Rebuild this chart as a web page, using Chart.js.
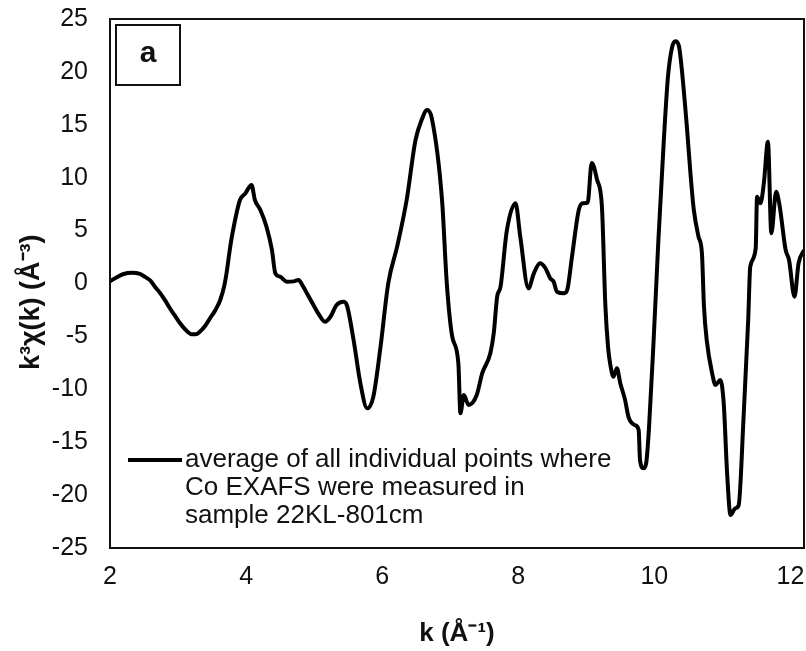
<!DOCTYPE html>
<html>
<head>
<meta charset="utf-8">
<script src="https://cdn.jsdelivr.net/npm/chart.js@4.4.1/dist/chart.umd.min.js"></script>
<style>
  html, body { margin: 0; padding: 0; background: #fff; }
  #wrap { width: 806px; height: 651px; }
</style>
</head>
<body>
<div id="wrap"><canvas id="c" width="806" height="651"></canvas></div>
<script>
// ---- data ----
const kValues = [
  2.00, 2.10, 2.20, 2.32, 2.44, 2.52, 2.59, 2.66, 2.74, 2.81, 2.88, 2.95, 3.03, 3.10, 3.20, 3.26,
  3.32, 3.40, 3.47, 3.55, 3.62, 3.68, 3.72, 3.76, 3.80, 3.91, 3.99, 4.08, 4.13, 4.21, 4.30, 4.38,
  4.43, 4.50, 4.60, 4.70, 4.77, 4.84, 4.90, 4.99, 5.06, 5.16, 5.24, 5.33, 5.43, 5.48, 5.58, 5.68,
  5.78, 5.87, 5.97, 6.09, 6.22, 6.36, 6.49, 6.58, 6.66, 6.73, 6.88, 6.95, 7.03, 7.12, 7.15, 7.20,
  7.27, 7.39, 7.47, 7.59, 7.64, 7.69, 7.74, 7.83, 7.96, 8.03, 8.15, 8.23, 8.32, 8.40, 8.47, 8.52,
  8.57, 8.67, 8.72, 8.79, 8.89, 8.95, 9.02, 9.08, 9.16, 9.23, 9.28, 9.32, 9.35, 9.40, 9.45, 9.50,
  9.57, 9.62, 9.72, 9.77, 9.79, 9.84, 9.88, 9.92, 9.99, 10.06, 10.14, 10.20, 10.26, 10.31, 10.36, 10.40,
  10.48, 10.53, 10.58, 10.65, 10.70, 10.73, 10.77, 10.85, 10.90, 10.97, 11.02, 11.07, 11.12, 11.19, 11.24, 11.31,
  11.38, 11.41, 11.49, 11.51, 11.56, 11.61, 11.67, 11.72, 11.79, 11.84, 11.93, 11.98, 12.06, 12.12, 12.20
];
const chiValues = [
  0.2, 0.6, 0.9, 1.02, 0.9, 0.6, 0.3, -0.3, -0.93, -1.6, -2.34, -3.0, -3.76, -4.3, -4.8, -4.8,
  -4.56, -4.0, -3.29, -2.5, -1.56, -0.2, 1.28, 3.17, 4.74, 7.89, 8.52, 9.31, 7.89, 6.95, 5.37, 3.17,
  0.96, 0.64, 0.17, 0.2, 0.33, -0.3, -1.0, -2.03, -2.82, -3.61, -3.14, -2.03, -1.72, -2.03, -5.34, -9.43,
  -11.8, -10.7, -6.29, 0.02, 3.48, 7.89, 13.56, 15.45, 16.4, 15.61, 7.89, 0.02, -5.03, -7.54, -12.27, -10.54,
  -11.48, -10.54, -8.49, -6.6, -4.71, -1.25, -0.3, 4.9, 7.58, 4.42, -0.45, 0.96, 1.91, 1.44, 0.49, 0.17,
  -0.78, -0.93, -0.61, 2.53, 6.95, 7.58, 7.64, 11.4, 9.78, 7.26, -2.0, -6.0, -7.54, -8.81, -8.02, -9.43,
  -11.0, -12.6, -13.4, -13.85, -16.7, -17.47, -17.0, -13.85, -5.34, 4.11, 13.56, 19.5, 22.3, 22.9, 22.5, 20.5,
  14.7, 10.5, 7.0, 4.42, 2.85, -2.19, -5.34, -8.49, -9.59, -9.12, -11.32, -17.94, -21.88, -21.25, -20.94, -12.9,
  -3.45, 1.59, 3.33, 8.2, 7.58, 9.47, 13.4, 4.74, 8.68, 7.42, 3.17, 2.22, -1.25, 1.91, 3.17
];
const xTickValues = [2, 4, 6, 8, 10, 12];
const yTickValues = [-25, -20, -15, -10, -5, 0, 5, 10, 15, 20, 25];
const legendLines = [
  "average of all individual points where",
  "Co EXAFS were measured in",
  "sample 22KL-801cm"
];
const panelLabel = "a";
const xTitle = "k (Å\u207B\u00B9)";
const yTitle = "k\u00B3χ(k) (Å\u207B\u00B3)";

const points = kValues.map((k, i) => ({ x: k, y: chiValues[i] }));
const FONT = "'Liberation Sans', Arial, sans-serif";

const framePlugin = {
  id: 'frame',
  afterDraw(chart) {
    const { ctx, chartArea: a } = chart;
    ctx.save();
    ctx.strokeStyle = '#111';
    ctx.lineWidth = 2;
    ctx.strokeRect(a.left, a.top, a.right - a.left, a.bottom - a.top);
    // panel label box
    const bx = a.left + 6, by = a.top + 6, bw = 64, bh = 60;
    ctx.fillStyle = '#fff';
    ctx.fillRect(bx, by, bw, bh);
    ctx.strokeRect(bx, by, bw, bh);
    ctx.fillStyle = '#111';
    ctx.font = "bold 30px " + FONT;
    ctx.textAlign = 'center';
    ctx.textBaseline = 'middle';
    ctx.fillText(panelLabel, bx + bw / 2, by + bh / 2 - 1);
    // legend
    const ds = chart.data.datasets[0];
    const ly = a.bottom - 88;
    ctx.strokeStyle = ds.borderColor;
    ctx.lineWidth = ds.borderWidth;
    ctx.beginPath();
    ctx.moveTo(a.left + 18, ly);
    ctx.lineTo(a.left + 72, ly);
    ctx.stroke();
    ctx.fillStyle = '#111';
    ctx.font = "26px " + FONT;
    ctx.textAlign = 'left';
    ctx.textBaseline = 'alphabetic';
    legendLines.forEach((t, i) => {
      ctx.fillText(t, a.left + 75, ly + 7 + i * 28);
    });
    ctx.restore();
  }
};

new Chart(document.getElementById('c'), {
  type: 'scatter',
  data: {
    datasets: [{
      label: legendLines.join(' '),
      data: points,
      showLine: true,
      borderColor: '#000',
      borderWidth: 4,
      pointRadius: 0,
      cubicInterpolationMode: 'monotone',
      fill: false
    }]
  },
  options: {
    responsive: false,
    animation: false,
    layout: { padding: { left: 0, right: 2, top: 19, bottom: 0 } },
    plugins: {
      legend: { display: false },
      tooltip: { enabled: false }
    },
    scales: {
      x: {
        type: 'linear',
        min: 2,
        max: 12.2,
        afterBuildTicks(scale) { scale.ticks = xTickValues.map(v => ({ value: v })); },
        afterFit(scale) { scale.height = 103; scale.paddingLeft = 0; scale.paddingRight = 0; },
        grid: { display: false, drawTicks: false },
        border: { display: true, color: '#111', width: 2 },
        ticks: { color: '#111', font: { family: FONT, size: 25 }, padding: 14, maxRotation: 0 },
        title: {
          display: true, text: xTitle, color: '#111',
          font: { family: FONT, size: 26, weight: 'bold' },
          padding: { top: 0, bottom: 2 }
        }
      },
      y: {
        type: 'linear',
        min: -25,
        max: 25,
        afterBuildTicks(scale) { scale.ticks = yTickValues.map(v => ({ value: v })); },
        afterFit(scale) { scale.width = 110; scale.paddingTop = 0; scale.paddingBottom = 0; },
        grid: { display: false, drawTicks: false },
        border: { display: true, color: '#111', width: 2 },
        ticks: { color: '#111', font: { family: FONT, size: 25 }, padding: 22 },
        title: {
          display: true, text: yTitle + "     ", color: '#111',
          font: { family: FONT, size: 27, weight: 'bold' },
          padding: { top: 15, bottom: 0 }
        }
      }
    }
  },
  plugins: [framePlugin]
});
</script>
</body>
</html>
